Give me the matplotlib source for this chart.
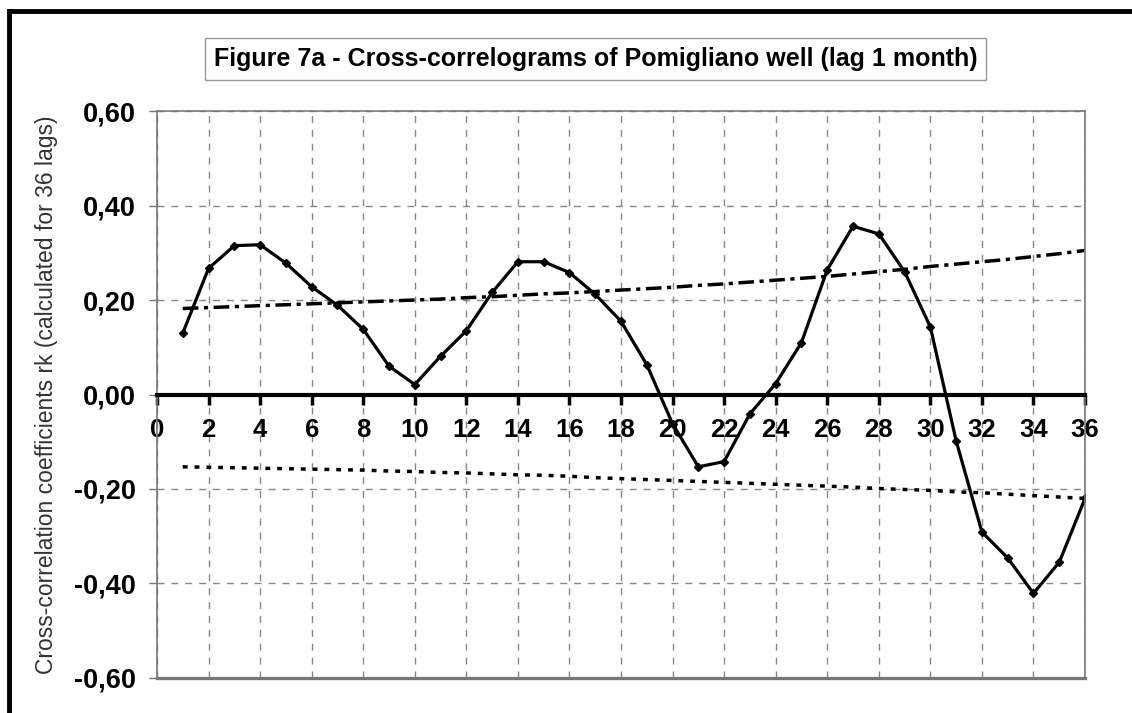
import numpy as np
import matplotlib
matplotlib.use('Agg')
from matplotlib import pyplot as plt
from matplotlib.lines import Line2D

plt.rcParams['font.family'] = ['Liberation Sans', 'DejaVu Sans']

lags = list(range(1, 37))
rk = [0.130, 0.267, 0.315, 0.317, 0.278, 0.228, 0.189, 0.138, 0.060, 0.021,
      0.081, 0.135, 0.216, 0.281, 0.281, 0.258, 0.212, 0.155, 0.063, -0.062,
      -0.153, -0.142, -0.041, 0.023, 0.110, 0.264, 0.356, 0.340, 0.260, 0.143,
      -0.098, -0.291, -0.346, -0.421, -0.355, -0.220]
upper = [0.182, 0.184, 0.186, 0.188, 0.190, 0.192, 0.194, 0.196, 0.198, 0.200,
         0.202, 0.205, 0.207, 0.210, 0.213, 0.215, 0.218, 0.221, 0.224, 0.227,
         0.231, 0.234, 0.238, 0.242, 0.246, 0.250, 0.255, 0.260, 0.265, 0.271,
         0.276, 0.281, 0.286, 0.292, 0.298, 0.305]
lower = [-0.153, -0.154, -0.155, -0.156, -0.157, -0.158, -0.159, -0.160, -0.162, -0.163,
         -0.165, -0.166, -0.168, -0.170, -0.171, -0.173, -0.176, -0.178, -0.180, -0.182,
         -0.184, -0.186, -0.188, -0.190, -0.192, -0.194, -0.196, -0.199, -0.201, -0.203,
         -0.206, -0.208, -0.211, -0.214, -0.217, -0.220]
xticks = list(range(0, 37, 2))
yticks = [-0.6, -0.4, -0.2, 0.0, 0.2, 0.4, 0.6]
title = 'Figure 7a - Cross-correlograms of Pomigliano well (lag 1 month)'
ylabel = 'Cross-correlation coefficients rk (calculated for 36 lags)'

fig = plt.figure(figsize=(11.32, 7.13), dpi=100)
ax = fig.add_axes([0.1387, 0.0491, 0.8198, 0.7952])

ax.plot(lags, upper, color='black', lw=2.5, dashes=(4.5, 1.6, 1.2, 1.6))
ax.plot(lags, lower, color='black', lw=2.5, dashes=(1.4, 2.0))
ax.plot(lags, rk, color='black', lw=2.3, marker='D', markersize=4.5)

ax.set_xlim(0, 36)
ax.set_ylim(-0.6, 0.6)
ax.set_xticks(xticks)
ax.set_yticks(yticks)
ax.set_yticklabels([('%.2f' % v).replace('.', ',') for v in yticks])
ax.grid(True, color='#888888', linestyle=(0, (5, 5)), linewidth=1)

for s in ['top', 'right', 'left']:
    ax.spines[s].set_color('#777777')
    ax.spines[s].set_linewidth(1.2)
ax.spines['bottom'].set_position(('data', 0))
ax.spines['bottom'].set_linewidth(3)
ax.spines['bottom'].set_color('black')
ax.axhline(-0.6, color='#777777', lw=2.4, clip_on=False)

ax.tick_params(axis='x', direction='out', length=7, width=2.5, color='black',
               labelsize=18.5, pad=10)
ax.tick_params(axis='y', direction='out', length=6, width=1, color='#777777',
               labelsize=19.5, pad=9)
for l in ax.get_xticklabels() + ax.get_yticklabels():
    l.set_fontweight('bold')

ax.set_ylabel(ylabel, fontsize=16.5, color='#333333', labelpad=12)

fig.text(0.526, 0.917, title, ha='center', va='center', fontsize=18,
         fontweight='bold', bbox=dict(boxstyle='square,pad=0.35', fc='white', ec='#999999', lw=1))

# outer chart frame
fig.add_artist(Line2D([0.008, 1.0], [0.985, 0.985], color='black', lw=3.5))
fig.add_artist(Line2D([0.008, 0.008], [0.0, 0.985], color='black', lw=3.5))

fig.savefig('out.png', dpi=100)
